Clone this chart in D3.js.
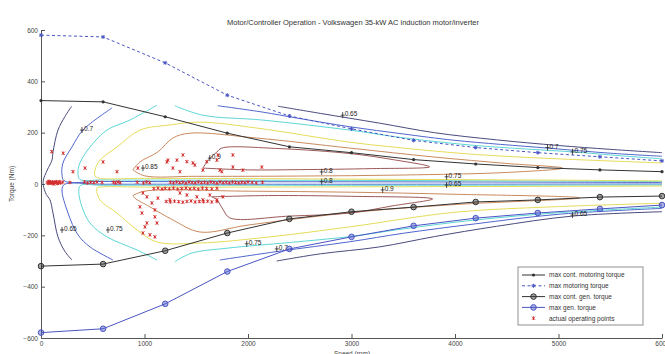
<!DOCTYPE html>
<html>
<head>
<meta charset="utf-8">
<script src="https://cdn.jsdelivr.net/npm/d3@7"></script>
<style>
  body { margin: 0; background: #fff; }
  svg { display: block; font-family: "Liberation Sans", Arial, sans-serif; }
</style>
</head>
<body>
<svg id="chart" width="665" height="354"></svg>
<script>
// axis ticks
const speedTicks = [0, 1000, 2000, 3000, 4000, 5000, 6000];
const torqueTicks = [-600, -400, -200, 0, 200, 400, 600];

// torque limits vs speed (rpm -> Nm)
const limitSpeed   = [0, 600, 1200, 1800, 2400, 3000, 3600, 4200, 4800, 5400, 6000];
const contMotoring = [325, 320, 262, 198, 145, 122, 95, 78, 64, 55, 48];
const maxMotoring  = [580, 573, 472, 346, 265, 215, 170, 142, 122, 106, 90];
const contGen      = [-320, -312, -260, -191, -136, -108, -90, -70, -62, -51, -47];
const maxGen       = [-579, -564, -467, -341, -253, -206, -163, -133, -113, -97, -82];

// efficiency contours, each level is a list of polylines [rpm, Nm]
const eff065 = [
  [[296,303],[230,262],[164,210],[116,125],[106,93],[60,54],[22,15],[22,-5],[50,-40],[87,-62],[116,-113],[164,-206],[230,-262],[299,-296]],
  [[2290,303],[2700,275],[3272,237],[3800,200],[4400,172],[5000,150],[5500,135],[6000,122]],
  [[2278,-300],[2700,-272],[3272,-245],[3800,-205],[4400,-165],[5135,-125],[6000,-108]]
];
const eff070 = [
  [[685,296],[405,210],[299,144],[212,82],[203,35],[225,12],[600,10],[2000,9],[4000,8],[6000,6]],
  [[695,-296],[473,-245],[357,-198],[261,-113],[203,-23],[225,-2],[600,-1],[3000,-1],[6000,0]],
  [[1708,305],[2143,280],[2471,257],[2983,223],[3500,195],[4000,170],[4890,140],[5500,120],[6000,108]],
  [[1728,-296],[2300,-262],[2983,-225],[3500,-192],[4200,-155],[5000,-118],[6000,-95]]
];
const eff075 = [
  [[1120,307],[859,249],[637,210],[473,144],[376,82],[357,43],[375,18],[600,16],[1500,15],[3000,14],[4500,12],[6000,10]],
  [[1120,-296],[927,-257],[637,-206],[473,-152],[396,-89],[365,-30],[380,-6],[600,-5],[3000,-5],[6000,-4]],
  [[1293,305],[1564,268],[2143,249],[2983,210],[3500,180],[4200,150],[5135,125],[5600,110],[6000,98]],
  [[1293,-303],[1450,-270],[1800,-250],[2400,-228],[2983,-205],[3500,-175],[4200,-140],[5000,-112],[6000,-90]]
];
const eff080 = [
  [[6000,82],[5000,98],[4200,115],[3500,140],[2983,163],[2085,218],[1535,241],[1245,230],[956,210],[734,144],[570,93],[521,54],[523,31],[560,23],[1000,22],[2000,21],[3000,19],[4000,17],[5000,15],[6000,12]],
  [[6000,-75],[5000,-88],[4000,-110],[2983,-167],[2210,-206],[1535,-230],[1120,-226],[927,-179],[734,-113],[570,-62],[540,-16],[570,-12],[1000,-12],[2000,-12],[3000,-11],[4000,-10],[5000,-9],[6000,-8]]
];
const eff085 = [
  [[888,55],[956,86],[1129,125],[1274,179],[1438,198],[2085,179],[2983,140],[3800,105],[4500,80],[5039,62],[4500,45],[3500,35],[2500,31],[1500,30],[1000,32],[888,55]],
  [[888,-45],[907,-55],[1052,-89],[1274,-140],[1535,-187],[2000,-160],[2983,-112],[4000,-80],[5203,-54],[4000,-40],[3000,-32],[2000,-28],[1000,-28],[888,-45]]
];
const eff090 = [
  [[1564,62],[1620,95],[1700,125],[1747,140],[2300,138],[3000,118],[3400,95],[3755,67],[3200,60],[2500,56],[2000,55],[1564,62]],
  [[1650,-50],[1700,-62],[1760,-100],[1824,-132],[2400,-125],[2983,-113],[3400,-85],[3784,-58],[3000,-48],[2200,-45],[1650,-50]]
];
const effLevels = [
  { lines: eff065, color: "#4a4a7e" },
  { lines: eff070, color: "#5066cc" },
  { lines: eff075, color: "#5ed6d6" },
  { lines: eff080, color: "#e6dc5a" },
  { lines: eff085, color: "#c98a5e" },
  { lines: eff090, color: "#9c5858" }
];

// contour labels [text, rpm, Nm]
const effLabels = [
  ["0.7", 396, 210], ["0.65", 203, -179], ["0.75", 647, -179], ["0.85", 985, 62],
  ["0.9", 1631, 101], ["0.8", 2712, 47], ["0.8", 2712, 9], ["0.9", 3301, -23],
  ["0.75", 3919, 28], ["0.65", 3919, -4], ["0.65", 2915, 268], ["0.7", 4894, 142],
  ["0.75", 5135, 125], ["0.65", 5135, -121], ["0.75", 1988, -233], ["0.7", 2278, -253]
];

// actual operating points [rpm, Nm]
const opPoints = [
  [60,6],[70,2],[75,9],[80,10],[90,4],[95,7],[100,3],[110,8],[115,5],[125,0],[130,7],[140,6],[150,9],[160,2],[170,5],[180,9],[190,4],[210,7],
  [280,6],[420,8],[450,4],[480,7],[510,5],[540,8],[590,6],[700,7],[720,4],[745,8],[765,5],[930,7],[990,4],[1020,8],[1050,5],
  [1250,7],[1280,4],[1310,8],[1340,5],[1370,7],[1400,3],[1430,8],[1460,6],[1490,4],[1520,8],[1550,5],[1580,7],[1610,4],[1640,8],
  [1670,6],[1700,3],[1730,8],[1760,5],[1790,7],[1820,4],[1850,8],[1880,6],[1910,4],[1940,7],[1970,5],[2000,8],[2040,6],[2080,4],[2140,7],
  [1090,-18],[1130,-16],[1170,-20],[1200,-17],[1240,-19],[1280,-16],[1320,-20],[1360,-18],[1400,-16],[1440,-19],[1480,-17],[1520,-20],[1560,-16],[1600,-18],[1650,-19],[1700,-17],
  [1210,-68],[1250,-70],[1290,-67],[1330,-69],[1370,-71],[1410,-68],[1450,-66],[1490,-70],[1530,-68],[1570,-69],[1610,-67],[1650,-70],[1700,-68],
  [103,126],[215,120],[309,48],[425,62],[600,86],[734,48],[936,62],[1216,86],[1371,113],[1467,82],[1564,54],[1699,93],[1747,48],
  [1853,113],[1313,93],[1409,87],[1274,62],[1342,48],[1709,113],[1486,74],[1728,54],[1853,66],[1950,54],[2133,66],[1602,87],[1226,93],
  [975,-113],[1023,-152],[1100,-128],[985,-191],[1052,-198],[1100,-206],[1023,-50],[1071,-74],[1100,-101],[956,-89],[985,-35],[1129,-55],
  [1342,-35],[1409,-43],[1506,-50],[1631,-43],[1699,-62],[1757,-50],[1245,-62],[1564,-62],[1004,-167],[1120,-152]
];

const legendNames = ["max cont. motoring torque", "max motoring torque", "max cont. gen. torque", "max gen. torque", "actual operating points"];

const svg = d3.select("#chart");
const x = d3.scaleLinear().domain([0, 6000]).range([41, 662]);
const y = d3.scaleLinear().domain([-600, 600]).range([338, 30]);

// axes
const axisText = g => g.selectAll("text").attr("fill", "#444").style("font-size", "6.5px");
svg.append("g")
  .attr("transform", "translate(0,338)")
  .call(d3.axisBottom(x).tickValues(speedTicks).tickSizeInner(-4).tickSizeOuter(0).tickPadding(3).tickFormat(d3.format("d")))
  .call(axisText)
  .call(g => g.selectAll("line,path").attr("stroke", "#555"));
svg.append("g")
  .attr("transform", "translate(41,0)")
  .call(d3.axisLeft(y).tickValues(torqueTicks).tickSizeInner(-4).tickSizeOuter(0).tickPadding(3).tickFormat(d3.format("d")))
  .call(axisText)
  .call(g => g.selectAll("line,path").attr("stroke", "#555"));

// titles
svg.append("text").attr("x", 353).attr("y", 25).attr("text-anchor", "middle")
  .attr("fill", "#333").style("font-size", "7.5px")
  .text("Motor/Controller Operation - Volkswagen 35-kW  AC induction motor/inverter");
svg.append("text").attr("transform", "translate(14,184) rotate(-90)").attr("text-anchor", "middle")
  .attr("fill", "#444").style("font-size", "6.5px").text("Torque (Nm)");
svg.append("text").attr("x", 352).attr("y", 356).attr("text-anchor", "middle")
  .attr("fill", "#444").style("font-size", "6.5px").text("Speed (rpm)");

// efficiency contours
const contourLine = d3.line().x(d => x(d[0])).y(d => y(d[1])).curve(d3.curveCatmullRom.alpha(0.5));
effLevels.forEach(lv => {
  svg.append("g").selectAll("path").data(lv.lines).join("path")
    .attr("d", contourLine)
    .attr("fill", "none").attr("stroke", lv.color).attr("stroke-width", 1);
});

// contour labels
const lab = svg.append("g").selectAll("g").data(effLabels).join("g")
  .attr("transform", d => `translate(${x(d[1])},${y(d[2])})`);
lab.append("path").attr("d", "M-2,0H2M0,-3V3").attr("stroke", "#222").attr("stroke-width", 0.8);
lab.append("text").attr("x", 2).attr("y", 1).attr("fill", "#222").style("font-size", "6.5px").text(d => d[0]);

// operating points
svg.append("g").selectAll("path").data(opPoints).join("path")
  .attr("transform", d => `translate(${x(d[0])},${y(d[1])})`)
  .attr("d", "M-1.5,-1.5L1.5,1.5M-1.5,1.5L1.5,-1.5M0,-1.8V1.8")
  .attr("stroke", "#d22a2a").attr("stroke-width", 0.9);

// torque limit lines
const limits = [
  { vals: contMotoring, color: "#333", dash: null, marker: "dot" },
  { vals: maxMotoring, color: "#4a55c4", dash: "3,2.5", marker: "star" },
  { vals: contGen, color: "#333", dash: null, marker: "circle" },
  { vals: maxGen, color: "#4a55c4", dash: null, marker: "circle" }
];
const limitLine = d3.line().x(d => x(d[0])).y(d => y(d[1]));
function drawMarker(g, type, color) {
  if (type === "dot") {
    g.append("circle").attr("r", 1.6).attr("fill", color);
  } else if (type === "star") {
    g.append("path").attr("d", "M-2,0H2M0,-2V2M-1.4,-1.4L1.4,1.4M-1.4,1.4L1.4,-1.4")
      .attr("stroke", color).attr("stroke-width", 1);
  } else if (type === "circle") {
    g.append("circle").attr("r", 2.8).attr("fill", color).attr("fill-opacity", 0.45)
      .attr("stroke", color).attr("stroke-width", 1);
  }
}
limits.forEach(l => {
  const pts = limitSpeed.map((s, i) => [s, l.vals[i]]);
  svg.append("path").attr("d", limitLine(pts)).attr("fill", "none")
    .attr("stroke", l.color).attr("stroke-width", 1).attr("stroke-dasharray", l.dash);
  pts.forEach(p => {
    const g = svg.append("g").attr("transform", `translate(${x(p[0])},${y(p[1])})`);
    drawMarker(g, l.marker, l.color);
  });
});

// legend
const leg = svg.append("g").attr("transform", "translate(518,267)");
leg.append("rect").attr("width", 125).attr("height", 58).attr("fill", "#fff").attr("stroke", "#777").attr("stroke-width", 0.8);
legendNames.forEach((name, i) => {
  const row = leg.append("g").attr("transform", `translate(0,${8 + i * 10.8})`);
  if (i < 4) {
    const l = limits[i];
    row.append("line").attr("x1", 4).attr("x2", 27).attr("stroke", l.color).attr("stroke-width", 1)
      .attr("stroke-dasharray", l.dash);
    drawMarker(row.append("g").attr("transform", "translate(15.5,0)"), l.marker, l.color);
  } else {
    row.append("path").attr("transform", "translate(15.5,0)")
      .attr("d", "M-1.5,-1.5L1.5,1.5M-1.5,1.5L1.5,-1.5M0,-1.8V1.8")
      .attr("stroke", "#d22a2a").attr("stroke-width", 0.9);
  }
  row.append("text").attr("x", 31).attr("y", 2.3).attr("fill", "#333").style("font-size", "6.5px").text(name);
});
</script>
</body>
</html>
